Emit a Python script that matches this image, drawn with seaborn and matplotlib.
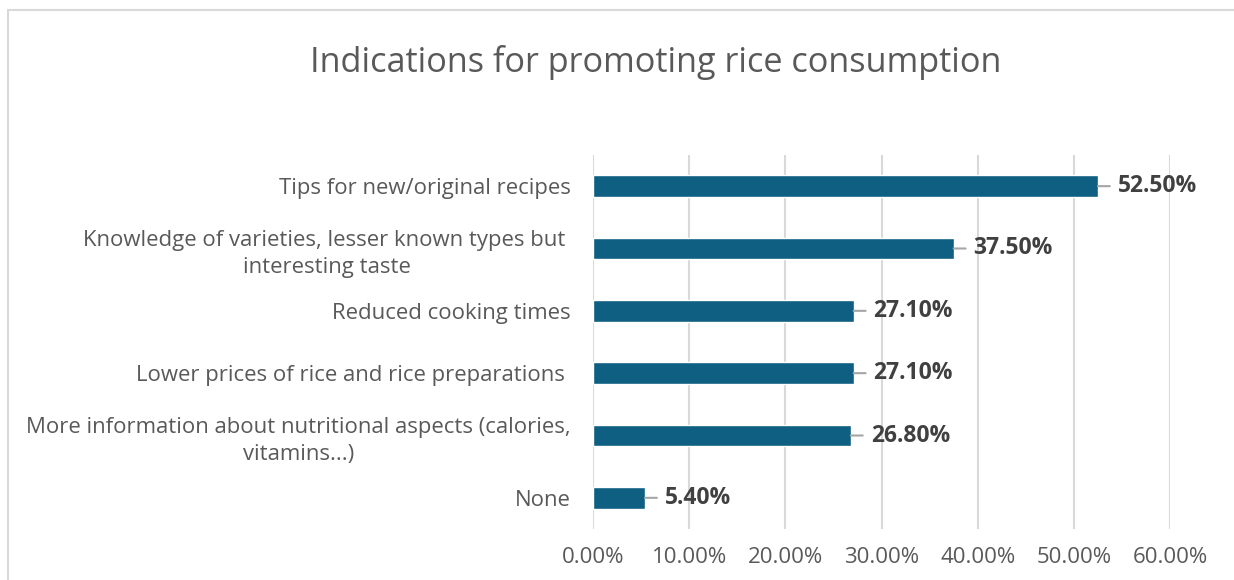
import matplotlib
matplotlib.use("Agg")
import matplotlib.pyplot as plt
import seaborn as sns
import pandas as pd
from matplotlib.patches import Rectangle

categories = [
    "Tips for new/original recipes",
    "Knowledge of varieties, lesser known types but \ninteresting taste",
    "Reduced cooking times",
    "Lower prices of rice and rice preparations ",
    "More information about nutritional aspects (calories,\nvitamins...)",
    "None",
]
values = [52.5, 37.5, 27.1, 27.1, 26.8, 5.4]
value_labels = ["52.50%", "37.50%", "27.10%", "27.10%", "26.80%", "5.40%"]
xticks = [0, 10, 20, 30, 40, 50, 60]
xtick_labels = ["0.00%", "10.00%", "20.00%", "30.00%", "40.00%", "50.00%", "60.00%"]
title = "Indications for promoting rice consumption"

df = pd.DataFrame({"category": categories, "value": values})

sns.set_style("white")
FONT = ["Open Sans", "DejaVu Sans"]
plt.rcParams["font.family"] = FONT

W, H = 1234, 580
fig = plt.figure(figsize=(W / 100, H / 100), dpi=100)
fig.patch.set_facecolor("white")
ax = fig.add_axes([593 / W, 1 - 529 / H, 577 / W, (529 - 155) / H])

sns.barplot(data=df, x="value", y="category", orient="h", color="#0E5F82",
            saturation=1, width=0.35, ax=ax, zorder=3)

ax.set_xlim(0, 60)
ax.set_xticks(xticks)
ax.set_xticklabels(xtick_labels, fontsize=16, color="#595959")
ax.set_yticks(range(len(categories)))
ax.set_yticklabels(categories, fontsize=15.9, color="#595959",
                   multialignment="center", linespacing=1.35)
ax.tick_params(axis="both", length=0)
ax.tick_params(axis="x", pad=13)
ax.tick_params(axis="y", pad=16)
ax.set_xlabel("")
ax.set_ylabel("")
ax.xaxis.grid(True, color="#D9D9D9", linewidth=1.5, zorder=0)
ax.yaxis.grid(False)
for s in ax.spines.values():
    s.set_visible(False)

# leader lines + value labels
for i, (v, lab) in enumerate(zip(values, value_labels)):
    ax.annotate("", xy=(v, i), xytext=(12, 0), textcoords="offset pixels",
                arrowprops=dict(arrowstyle="-", color="#A6A6A6", lw=1.5,
                                shrinkA=0, shrinkB=0))
    ax.annotate(lab, xy=(v, i), xytext=(20, 0), textcoords="offset pixels",
                ha="left", va="center", fontsize=16.5, fontweight="bold",
                color="#404040")

fig.text(656 / W, 1 - 62 / H, title, ha="center", va="center",
         fontsize=24.7, color="#595959")

fig.patches.append(Rectangle((8 / W, -0.1), 1.2, 1 - 10 / H + 0.1,
                             transform=fig.transFigure, fill=False,
                             edgecolor="#D9D9D9", linewidth=1.5))

fig.savefig("out.png", dpi=100)
